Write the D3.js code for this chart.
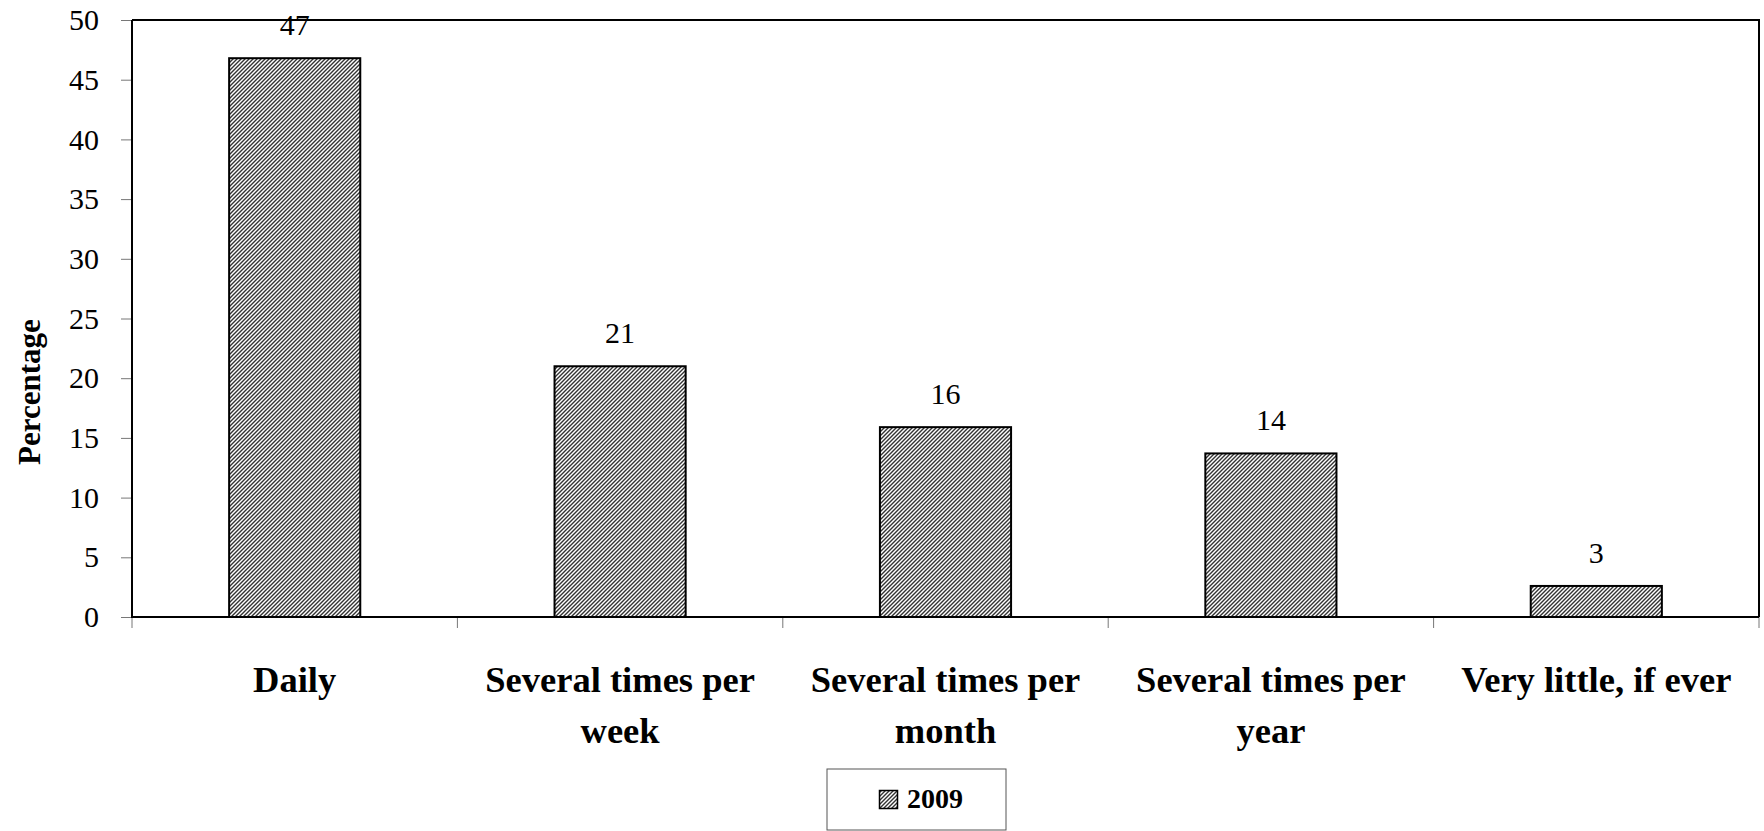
<!DOCTYPE html>
<html>
<head>
<meta charset="utf-8">
<script src="https://cdn.jsdelivr.net/npm/d3@7"></script>
<style>
  html, body { margin: 0; padding: 0; background: #fff; }
  svg { display: block; }
</style>
</head>
<body>
<svg id="chart" width="1764" height="831"></svg>
<script>
const categories = [["Daily"], ["Several times per", "week"], ["Several times per", "month"], ["Several times per", "year"], ["Very little, if ever"]];
const categoryKeys = ["Daily", "Several times per week", "Several times per month", "Several times per year", "Very little, if ever"];
const values2009 = [46.8, 21.0, 15.9, 13.7, 2.6];
const yTicks = [0, 5, 10, 15, 20, 25, 30, 35, 40, 45, 50];
const seriesName = "2009";
const yTitle = "Percentage";

const svg = d3.select("#chart");
const plot = { left: 132, right: 1759, top: 20, bottom: 617 };
const FONT = "'Liberation Serif', 'Times New Roman', serif";

// Hatch pattern
const defs = svg.append("defs");
const pat = defs.append("pattern")
  .attr("id", "hatch")
  .attr("patternUnits", "userSpaceOnUse")
  .attr("width", 4).attr("height", 4);
pat.append("rect").attr("width", 4).attr("height", 4).attr("fill", "#fff");
pat.append("path")
  .attr("d", "M-1,1 L1,-1 M0,4 L4,0 M3,5 L5,3")
  .attr("stroke", "#333").attr("stroke-width", 1.4);

const xCat = d3.scaleBand().domain(categoryKeys).range([plot.left, plot.right]).padding(0);
const barFrac = 0.403;
const y = d3.scaleLinear().domain([0, 50]).range([plot.bottom, plot.top]);

// Y axis ticks & labels
const yAxis = d3.axisLeft(y).tickValues(yTicks).tickSize(11).tickPadding(22).tickFormat(d3.format("d"));
const gy = svg.append("g").attr("transform", `translate(${plot.left},0)`).call(yAxis);
gy.select(".domain").remove();
gy.selectAll(".tick line").attr("stroke", "#777").attr("stroke-width", 1);
gy.selectAll(".tick text").attr("font-family", FONT).attr("font-size", 30).attr("fill", "#000");

// X category ticks at boundaries
const boundaries = categoryKeys.map(c => xCat(c)).concat([xCat(categoryKeys[categoryKeys.length - 1]) + xCat.bandwidth()]);
svg.append("g").selectAll("line").data(boundaries).join("line")
  .attr("x1", d => d).attr("x2", d => d)
  .attr("y1", plot.bottom).attr("y2", plot.bottom + 11)
  .attr("stroke", "#777").attr("stroke-width", 1);

// Frame top/right
svg.append("path")
  .attr("d", `M${plot.left},${plot.top} H${plot.right} V${plot.bottom}`)
  .attr("fill", "none").attr("stroke", "#000").attr("stroke-width", 2);

// Bars
const data = categoryKeys.map((k, i) => ({ key: k, value: values2009[i] }));
const bw = xCat.bandwidth() * barFrac;
svg.append("g").selectAll("rect").data(data).join("rect")
  .attr("x", d => xCat(d.key) + (xCat.bandwidth() - bw) / 2)
  .attr("y", d => y(d.value))
  .attr("width", bw)
  .attr("height", d => y(0) - y(d.value))
  .attr("fill", "url(#hatch)")
  .attr("stroke", "#000").attr("stroke-width", 2);

// Axes lines (left & bottom)
svg.append("path")
  .attr("d", `M${plot.left},${plot.top} V${plot.bottom} H${plot.right}`)
  .attr("fill", "none").attr("stroke", "#000").attr("stroke-width", 2);

// Value labels
svg.append("g").selectAll("text").data(data).join("text")
  .attr("x", d => xCat(d.key) + xCat.bandwidth() / 2)
  .attr("y", d => y(d.value) - 23)
  .attr("text-anchor", "middle")
  .attr("font-family", FONT).attr("font-size", 30).attr("fill", "#000")
  .text(d => d3.format(".0f")(d.value));

// Category labels
const catG = svg.append("g");
categories.forEach((lines, i) => {
  const cx = xCat(categoryKeys[i]) + xCat.bandwidth() / 2;
  const t = catG.append("text")
    .attr("x", cx)
    .attr("y", 692)
    .attr("text-anchor", "middle")
    .attr("font-family", FONT).attr("font-size", 36.5).attr("font-weight", "bold").attr("fill", "#000");
  lines.forEach((ln, j) => {
    t.append("tspan").attr("x", cx).attr("dy", j === 0 ? 0 : 51).text(ln);
  });
});

// Y title
svg.append("text")
  .attr("transform", "translate(40,392) rotate(-90)")
  .attr("text-anchor", "middle")
  .attr("font-family", FONT).attr("font-size", 31).attr("font-weight", "bold").attr("fill", "#000")
  .text(yTitle);

// Legend
const lg = svg.append("g");
lg.append("rect").attr("x", 827).attr("y", 769).attr("width", 179).attr("height", 61)
  .attr("fill", "#fff").attr("stroke", "#555").attr("stroke-width", 1);
lg.append("rect").attr("x", 879.5).attr("y", 790.5).attr("width", 18).attr("height", 18)
  .attr("fill", "url(#hatch)").attr("stroke", "#000").attr("stroke-width", 1.5);
lg.append("text").attr("x", 907).attr("y", 808)
  .attr("font-family", FONT).attr("font-size", 28).attr("font-weight", "bold").attr("fill", "#000")
  .text(seriesName);
</script>
</body>
</html>
